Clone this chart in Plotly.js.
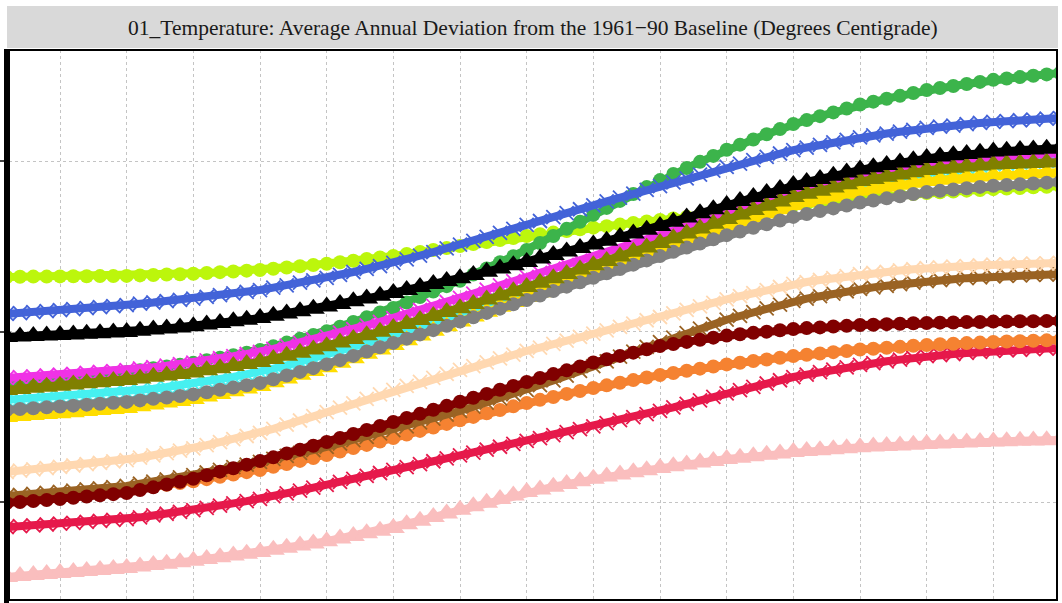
<!DOCTYPE html>
<html>
<head>
<meta charset="utf-8">
<script src="https://cdn.plot.ly/plotly-3.0.1.min.js"></script>
<style>html,body{margin:0;padding:0;background:#fff;}#chart{width:1062px;height:603px;}</style>
</head>
<body>
<div id="chart"></div>
<script>
// Years 2021..2100 (x categories)
const years = Array.from({length: 80}, (_, i) => 2021 + i);

const titleText = "01_Temperature: Average Annual Deviation from the 1961\u221290 Baseline (Degrees Centigrade)";

// Series values (deg C)
const lime = [2.320,2.321,2.322,2.322,2.323,2.324,2.324,2.325,2.325,2.326, 2.329,2.331,2.334,2.336,2.339,2.343,2.348,2.352,2.357,2.361, 2.368,2.375,2.383,2.390,2.397,2.406,2.415,2.425,2.434,2.443, 2.455,2.466,2.478,2.489,2.501,2.513,2.525,2.536,2.548,2.560, 2.570,2.580,2.589,2.599,2.609,2.618,2.627,2.636,2.645,2.654, 2.663,2.672,2.682,2.691,2.700,2.708,2.717,2.725,2.734,2.742, 2.750,2.757,2.765,2.772,2.780,2.786,2.793,2.799,2.806,2.812, 2.817,2.821,2.826,2.830,2.835,2.839,2.842,2.846,2.849,2.853];
const blue = [2.103,2.108,2.114,2.119,2.125,2.131,2.137,2.143,2.149,2.155, 2.163,2.170,2.178,2.185,2.193,2.203,2.213,2.223,2.233,2.243, 2.257,2.271,2.286,2.300,2.314,2.332,2.349,2.367,2.384,2.402, 2.423,2.445,2.466,2.488,2.509,2.532,2.555,2.579,2.602,2.625, 2.648,2.671,2.694,2.717,2.740,2.763,2.785,2.808,2.830,2.853, 2.875,2.898,2.920,2.943,2.965,2.985,3.005,3.024,3.044,3.064, 3.079,3.094,3.109,3.124,3.139,3.150,3.161,3.172,3.183,3.194, 3.201,3.208,3.216,3.223,3.230,3.234,3.239,3.243,3.248,3.252];
const black = [1.968,1.971,1.974,1.977,1.980,1.983,1.987,1.990,1.994,1.997, 2.004,2.011,2.017,2.024,2.031,2.041,2.050,2.060,2.069,2.079, 2.092,2.106,2.119,2.133,2.146,2.162,2.178,2.194,2.210,2.226, 2.243,2.261,2.278,2.296,2.313,2.332,2.351,2.370,2.389,2.408, 2.428,2.449,2.469,2.490,2.510,2.532,2.554,2.575,2.597,2.619, 2.644,2.668,2.693,2.717,2.742,2.765,2.789,2.812,2.836,2.859, 2.877,2.895,2.914,2.932,2.950,2.964,2.977,2.991,3.004,3.018, 3.026,3.033,3.041,3.048,3.056,3.060,3.064,3.068,3.072,3.076];
const green = [1.698,1.705,1.711,1.718,1.724,1.732,1.739,1.747,1.754,1.762, 1.773,1.784,1.794,1.805,1.816,1.831,1.846,1.861,1.876,1.891, 1.913,1.935,1.957,1.979,2.001,2.028,2.056,2.083,2.111,2.138, 2.170,2.202,2.234,2.266,2.298,2.334,2.370,2.406,2.442,2.478, 2.519,2.560,2.602,2.643,2.684,2.725,2.766,2.806,2.847,2.888, 2.924,2.959,2.995,3.030,3.066,3.096,3.126,3.157,3.187,3.217, 3.240,3.263,3.285,3.308,3.331,3.348,3.365,3.382,3.399,3.416, 3.428,3.440,3.452,3.464,3.476,3.484,3.492,3.500,3.508,3.516];
const magenta = [1.727,1.732,1.737,1.742,1.747,1.752,1.757,1.763,1.768,1.774, 1.783,1.791,1.800,1.809,1.818,1.830,1.843,1.855,1.868,1.880, 1.898,1.917,1.935,1.953,1.971,1.993,2.014,2.036,2.057,2.079, 2.103,2.126,2.150,2.173,2.197,2.222,2.246,2.271,2.295,2.320, 2.344,2.368,2.391,2.415,2.439,2.463,2.487,2.512,2.536,2.560, 2.587,2.613,2.640,2.666,2.693,2.718,2.743,2.768,2.793,2.818, 2.837,2.857,2.876,2.896,2.915,2.930,2.944,2.959,2.973,2.988, 2.996,3.004,3.011,3.019,3.027,3.031,3.035,3.039,3.043,3.047];
const olive = [1.657,1.663,1.670,1.676,1.682,1.689,1.696,1.702,1.709,1.716, 1.725,1.734,1.742,1.751,1.760,1.772,1.784,1.797,1.809,1.821, 1.839,1.858,1.876,1.895,1.913,1.935,1.956,1.978,1.999,2.021, 2.044,2.067,2.091,2.114,2.137,2.162,2.187,2.211,2.236,2.261, 2.286,2.312,2.337,2.363,2.388,2.414,2.440,2.467,2.493,2.519, 2.547,2.575,2.604,2.632,2.660,2.686,2.712,2.737,2.763,2.789, 2.808,2.826,2.845,2.863,2.882,2.895,2.908,2.921,2.934,2.947, 2.954,2.960,2.967,2.973,2.980,2.983,2.986,2.988,2.991,2.994];
const cyan = [1.598,1.603,1.608,1.613,1.618,1.623,1.629,1.634,1.640,1.645, 1.655,1.664,1.674,1.683,1.693,1.707,1.721,1.734,1.748,1.762, 1.782,1.802,1.822,1.842,1.862,1.885,1.909,1.932,1.956,1.979, 2.004,2.030,2.055,2.081,2.106,2.132,2.159,2.185,2.212,2.238, 2.264,2.289,2.315,2.340,2.366,2.392,2.418,2.444,2.470,2.496, 2.525,2.553,2.582,2.610,2.639,2.665,2.692,2.718,2.745,2.771, 2.790,2.809,2.828,2.847,2.866,2.880,2.894,2.907,2.921,2.935, 2.944,2.953,2.962,2.971,2.980,2.985,2.990,2.996,3.001,3.006];
const gray = [1.540,1.545,1.550,1.555,1.560,1.565,1.571,1.576,1.582,1.587, 1.596,1.605,1.613,1.622,1.631,1.644,1.658,1.671,1.685,1.698, 1.720,1.742,1.763,1.785,1.807,1.832,1.857,1.883,1.908,1.933, 1.958,1.983,2.008,2.033,2.058,2.083,2.109,2.134,2.160,2.185, 2.211,2.237,2.263,2.289,2.315,2.341,2.366,2.392,2.417,2.443, 2.467,2.492,2.516,2.541,2.565,2.586,2.608,2.629,2.651,2.672, 2.689,2.706,2.722,2.739,2.756,2.768,2.781,2.793,2.806,2.818, 2.825,2.833,2.840,2.848,2.855,2.859,2.864,2.868,2.873,2.877];
const yellow = [1.499,1.505,1.510,1.516,1.521,1.527,1.533,1.539,1.545,1.551, 1.562,1.572,1.583,1.593,1.604,1.619,1.634,1.650,1.665,1.680, 1.702,1.724,1.747,1.769,1.791,1.817,1.843,1.869,1.895,1.921, 1.949,1.976,2.004,2.031,2.059,2.088,2.116,2.145,2.173,2.202, 2.230,2.258,2.285,2.313,2.341,2.368,2.396,2.423,2.451,2.478, 2.506,2.534,2.562,2.590,2.618,2.643,2.668,2.692,2.717,2.742, 2.759,2.776,2.792,2.809,2.826,2.837,2.849,2.860,2.872,2.883, 2.890,2.896,2.903,2.909,2.916,2.920,2.924,2.927,2.931,2.935];
const peach = [1.176,1.184,1.191,1.199,1.206,1.214,1.222,1.230,1.238,1.246, 1.260,1.274,1.287,1.301,1.315,1.333,1.351,1.369,1.387,1.405, 1.429,1.454,1.478,1.503,1.527,1.553,1.579,1.605,1.631,1.657, 1.681,1.704,1.728,1.751,1.775,1.797,1.819,1.842,1.864,1.886, 1.906,1.927,1.947,1.968,1.988,2.007,2.027,2.046,2.066,2.085, 2.106,2.127,2.147,2.168,2.189,2.207,2.225,2.243,2.261,2.279, 2.290,2.302,2.313,2.325,2.336,2.343,2.350,2.358,2.365,2.372, 2.376,2.380,2.384,2.388,2.392,2.394,2.396,2.398,2.400,2.402];
const brown = [1.035,1.041,1.048,1.054,1.060,1.067,1.074,1.080,1.087,1.094, 1.107,1.119,1.132,1.144,1.157,1.173,1.188,1.204,1.219,1.235, 1.253,1.270,1.288,1.305,1.323,1.343,1.363,1.382,1.402,1.422, 1.444,1.467,1.489,1.512,1.534,1.559,1.583,1.608,1.632,1.657, 1.685,1.713,1.741,1.769,1.797,1.825,1.853,1.882,1.910,1.938, 1.964,1.990,2.017,2.043,2.069,2.091,2.113,2.135,2.157,2.179, 2.193,2.207,2.222,2.236,2.250,2.259,2.268,2.278,2.287,2.296, 2.302,2.307,2.313,2.318,2.324,2.327,2.329,2.332,2.334,2.337];
const maroon = [0.994,1.000,1.006,1.012,1.018,1.025,1.032,1.039,1.046,1.053, 1.070,1.086,1.103,1.119,1.136,1.157,1.178,1.198,1.219,1.240, 1.262,1.285,1.307,1.330,1.352,1.375,1.399,1.422,1.446,1.469, 1.493,1.517,1.541,1.564,1.588,1.611,1.634,1.658,1.681,1.704, 1.727,1.750,1.772,1.795,1.818,1.837,1.857,1.876,1.896,1.915, 1.927,1.939,1.952,1.964,1.976,1.984,1.992,1.999,2.007,2.015, 2.020,2.024,2.029,2.033,2.038,2.040,2.043,2.045,2.048,2.050, 2.052,2.053,2.055,2.056,2.058,2.059,2.060,2.060,2.061,2.062];
const orange = [1.018,1.024,1.029,1.035,1.040,1.046,1.052,1.058,1.064,1.070, 1.080,1.090,1.101,1.111,1.121,1.134,1.148,1.161,1.175,1.188, 1.206,1.223,1.241,1.258,1.276,1.296,1.316,1.335,1.355,1.375, 1.396,1.417,1.437,1.458,1.479,1.499,1.520,1.540,1.561,1.581, 1.599,1.616,1.634,1.651,1.669,1.684,1.699,1.715,1.730,1.745, 1.757,1.770,1.782,1.795,1.807,1.817,1.827,1.836,1.846,1.856, 1.864,1.871,1.879,1.886,1.894,1.899,1.905,1.910,1.916,1.921, 1.925,1.928,1.932,1.935,1.939,1.941,1.943,1.946,1.948,1.950];
const crimson = [0.853,0.858,0.863,0.868,0.873,0.878,0.884,0.889,0.895,0.900, 0.910,0.921,0.931,0.942,0.952,0.965,0.979,0.992,1.005,1.018, 1.034,1.051,1.067,1.084,1.100,1.118,1.135,1.153,1.170,1.188, 1.205,1.222,1.239,1.256,1.273,1.290,1.307,1.324,1.341,1.358, 1.375,1.392,1.410,1.427,1.444,1.462,1.480,1.498,1.516,1.534, 1.555,1.575,1.596,1.616,1.637,1.656,1.675,1.695,1.714,1.733, 1.747,1.762,1.776,1.790,1.804,1.814,1.825,1.835,1.846,1.856, 1.862,1.868,1.874,1.880,1.886,1.889,1.893,1.896,1.900,1.903];
const pink = [0.560,0.566,0.572,0.577,0.583,0.589,0.595,0.601,0.607,0.613, 0.621,0.630,0.638,0.647,0.655,0.665,0.676,0.686,0.697,0.707, 0.720,0.732,0.745,0.757,0.770,0.786,0.801,0.817,0.832,0.848, 0.869,0.890,0.912,0.933,0.954,0.975,0.996,1.017,1.038,1.059, 1.074,1.090,1.105,1.121,1.136,1.149,1.161,1.174,1.186,1.199, 1.210,1.220,1.231,1.241,1.252,1.260,1.268,1.277,1.285,1.293, 1.299,1.304,1.310,1.315,1.321,1.325,1.328,1.332,1.336,1.340, 1.343,1.346,1.349,1.352,1.355,1.357,1.359,1.360,1.362,1.364];

const yTicks = [1, 2, 3];
const xGrid = [2025, 2030, 2035, 2040, 2045, 2050, 2055, 2060, 2065, 2070, 2075, 2080, 2085, 2090, 2095];

// Drawing order: first is at the bottom
const series = [
  {y: pink,    color: '#fabebe', sym: 'triangle-up'},
  {y: crimson, color: '#e6194b', sym: 'x-thin-open'},
  {y: orange,  color: '#f58231', sym: 'circle'},
  {y: brown,   color: '#9a6324', sym: 'x-thin-open'},
  {y: maroon,  color: '#800000', sym: 'circle'},
  {y: peach,   color: '#ffd8b1', sym: 'x-thin-open'},
  {y: lime,    color: '#bcf60c', sym: 'circle'},
  {y: green,   color: '#3cb44b', sym: 'circle'},
  {y: blue,    color: '#4363d8', sym: 'x-thin-open'},
  {y: cyan,    color: '#46f0f0', sym: 'x-thin-open'},
  {y: magenta, color: '#f032e6', sym: 'x-thin-open'},
  {y: yellow,  color: '#ffdd00', sym: 'triangle-up'},
  {y: gray,    color: '#808080', sym: 'circle'},
  {y: olive,   color: '#808000', sym: 'triangle-up'},
  {y: black,   color: '#000000', sym: 'triangle-up'}
];

const sizeFor = {'circle': 14, 'triangle-up': 20, 'x-thin-open': 14};

const traces = series.map(s => {
  const open = s.sym.indexOf('open') >= 0;
  return {
    x: years, y: s.y, type: 'scatter', mode: 'lines+markers',
    line: {color: s.color, width: 8},
    marker: {
      symbol: s.sym, color: s.color, size: sizeFor[s.sym],
      line: {color: s.color, width: open ? 1.8 : 0}
    },
    hoverinfo: 'skip', showlegend: false
  };
});

const W = 1062, H = 603;
const L = 9, R = 5, T = 50, B = 3;
const pw = W - L - R, ph = H - T - B;

const layout = {
  width: W, height: H,
  margin: {l: L, r: R, t: T, b: B, pad: 0},
  paper_bgcolor: '#ffffff', plot_bgcolor: '#ffffff',
  showlegend: false,
  xaxis: {
    range: [2021.175, 2099.775], tickvals: xGrid, showticklabels: false, ticks: '',
    showgrid: true, gridcolor: '#c4c4c4', griddash: 'dot', gridwidth: 1,
    zeroline: false, showline: false, fixedrange: true
  },
  yaxis: {
    range: [0.4252, 3.651], tickvals: yTicks, showticklabels: false,
    ticks: 'outside', ticklen: 8, tickwidth: 2, tickcolor: '#444444',
    showgrid: true, gridcolor: '#c4c4c4', griddash: 'dot', gridwidth: 1,
    zeroline: false, showline: false, fixedrange: true
  },
  shapes: [
    {type: 'rect', xref: 'paper', yref: 'paper', layer: 'below',
     x0: -2 / pw, x1: 1 + 1 / pw, y0: 1 + 2 / ph, y1: 1 + 44 / ph,
     fillcolor: '#d9d9d9', line: {width: 0}},
    {type: 'rect', xref: 'paper', yref: 'paper', layer: 'above',
     x0: 0, x1: 1, y0: 0, y1: 1, fillcolor: 'rgba(0,0,0,0)',
     line: {color: '#000000', width: 2}},
    {type: 'line', xref: 'paper', yref: 'paper', layer: 'above',
     x0: -2.5 / pw, x1: -2.5 / pw, y0: -3 / ph, y1: 1 + 1 / ph,
     line: {color: '#000000', width: 5}}
  ],
  annotations: [
    {text: titleText, xref: 'paper', yref: 'paper', x: 0.5, y: 1 + 22 / ph,
     xanchor: 'center', yanchor: 'middle', showarrow: false,
     font: {family: 'Liberation Serif, Times New Roman, serif', size: 21.5, color: '#1a1a1a'}}
  ]
};

Plotly.newPlot('chart', traces, layout, {displayModeBar: false, staticPlot: true});
</script>
</body>
</html>
